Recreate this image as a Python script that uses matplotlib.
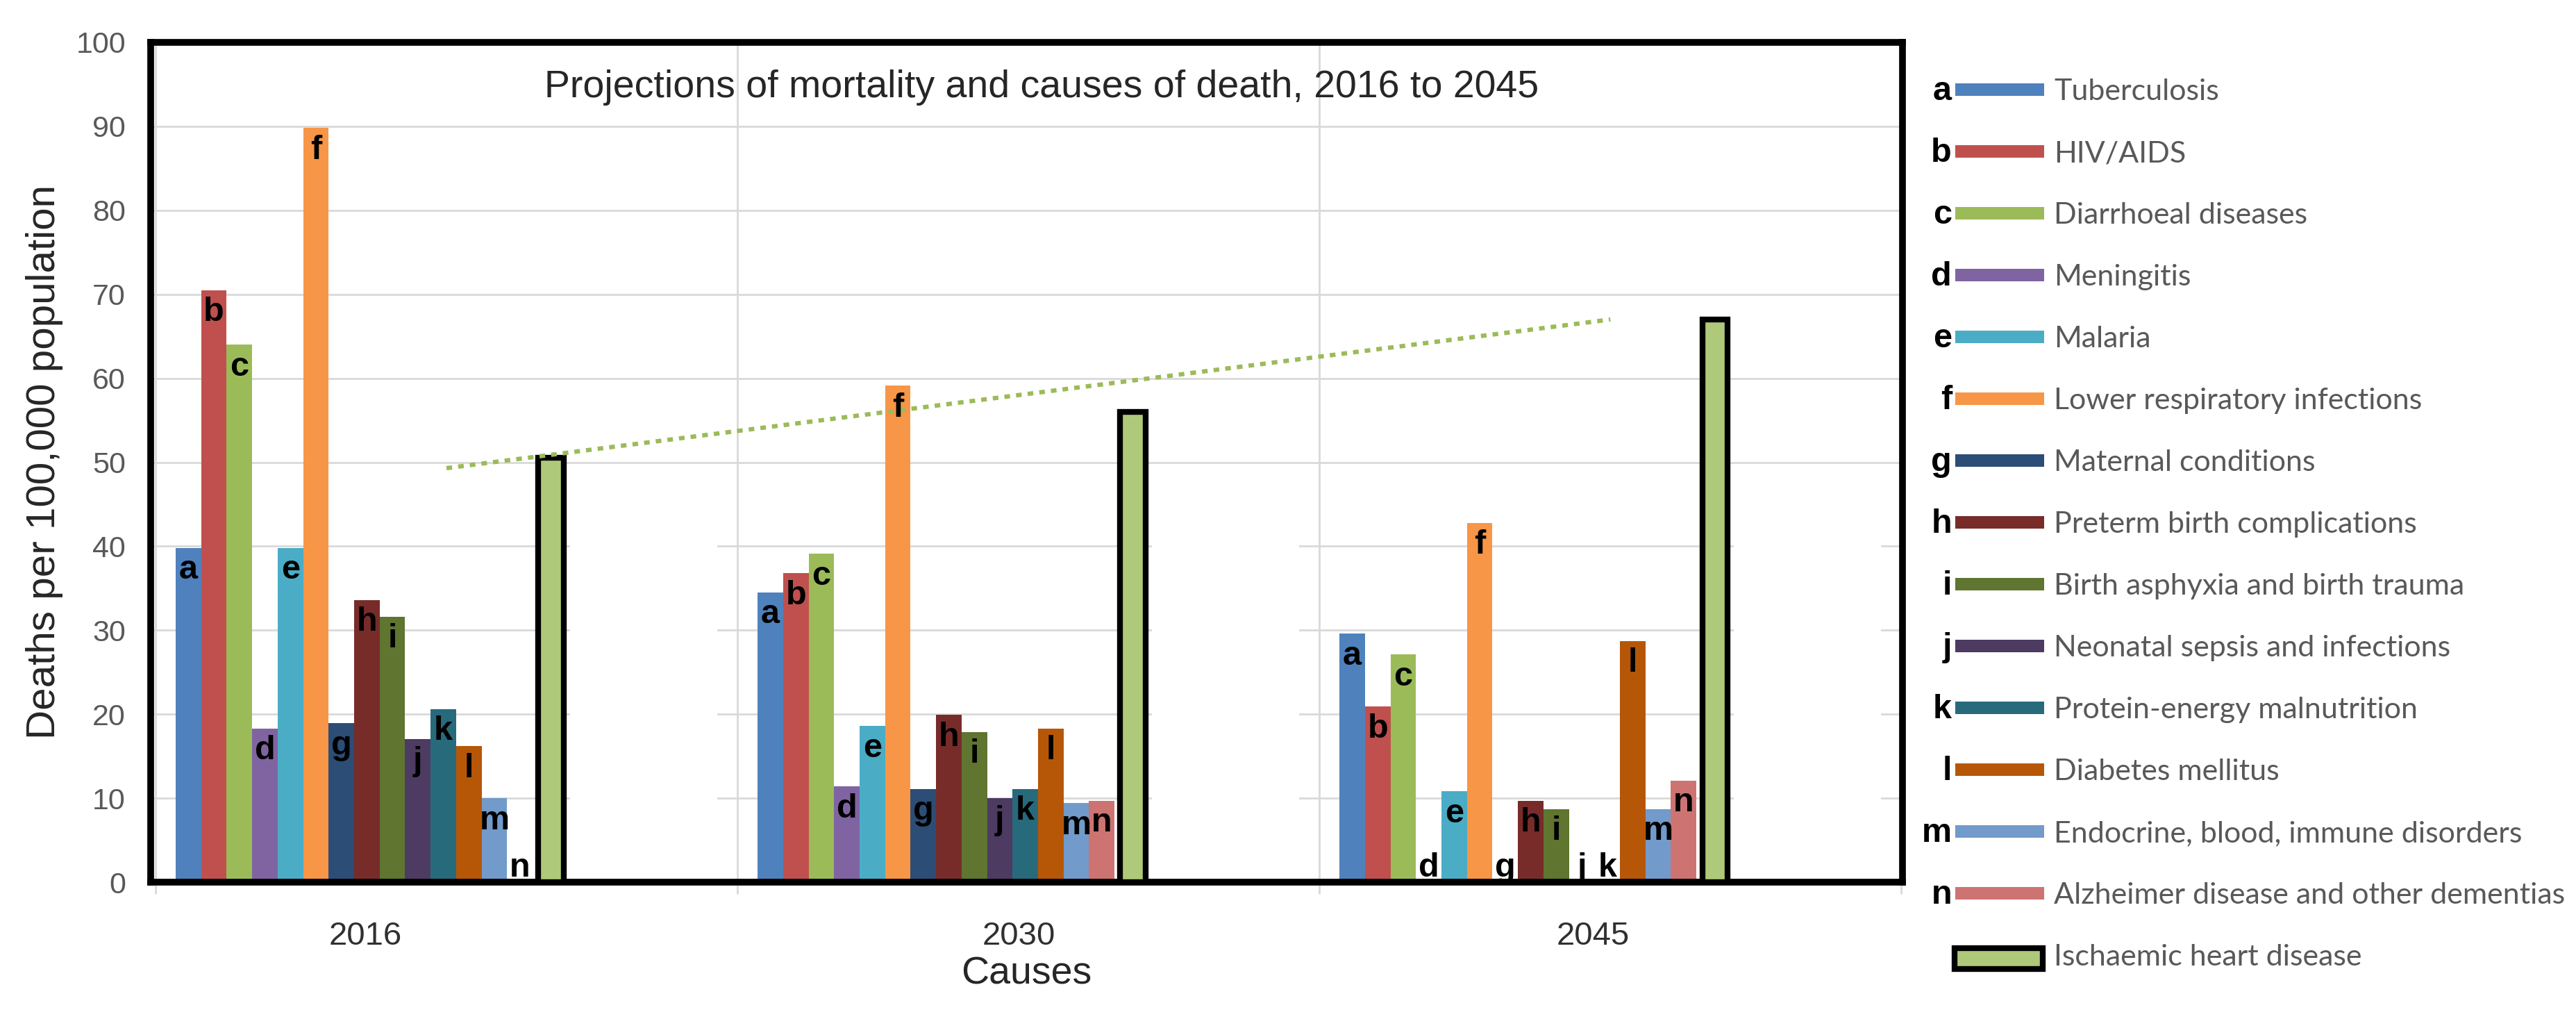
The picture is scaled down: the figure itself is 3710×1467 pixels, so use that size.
import numpy as np
import matplotlib
matplotlib.use('Agg')
import matplotlib.pyplot as plt
from matplotlib.patches import Rectangle

plt.rcParams['font.family'] = ['Liberation Sans', 'DejaVu Sans']

years = ['2016', '2030', '2045']
letters = ['a', 'b', 'c', 'd', 'e', 'f', 'g', 'h', 'i', 'j', 'k', 'l', 'm', 'n']
causes = ['Tuberculosis', 'HIV/AIDS', 'Diarrhoeal diseases', 'Meningitis', 'Malaria',
          'Lower respiratory infections', 'Maternal conditions',
          'Preterm birth complications', 'Birth asphyxia and birth trauma',
          'Neonatal sepsis and infections', 'Protein-energy malnutrition',
          'Diabetes mellitus', 'Endocrine, blood, immune disorders',
          'Alzheimer disease and other dementias']
colors = ['#4F81BD', '#C0504D', '#9BBB59', '#8064A2', '#4BACC6', '#F79646',
          '#2C4D75', '#772C2A', '#5F7530', '#4D3B62', '#276A7C', '#B65708',
          '#729ACA', '#CD7371']

# deaths per 100,000 population, same order as causes
deaths_2016 = [39.8, 70.5, 64.0, 18.3, 39.8, 89.8, 18.9, 33.6, 31.6, 17.0, 20.6, 16.2, 10.0, 0]
deaths_2030 = [34.5, 36.8, 39.1, 11.4, 18.6, 59.1, 11.1, 19.9, 17.9, 10.0, 11.1, 18.3, 9.4, 9.7]
deaths_2045 = [29.6, 20.9, 27.1, 0, 10.8, 42.8, 0, 9.7, 8.7, 0, 0, 28.7, 8.7, 12.1]

ihd_name = 'Ischaemic heart disease'
ihd_color = '#AFC97A'
ihd = [50.5, 56.0, 67.0]

# dotted trend line, read at 2016 and 2045
trend_vals = [49.3, 67.0]

# layout (category units, one category per year)
bar_w = 0.0438
first = 0.0346
year_label_off = [0.36, 0.483, 0.47]

fig = plt.figure(figsize=(37.1, 14.67), dpi=100)
ax = fig.add_axes([217 / 3710, 197 / 1467, 2523 / 3710, 1209 / 1467])

groups = np.arange(len(years))
table = np.array([deaths_2016, deaths_2030, deaths_2045])

for k in range(len(causes)):
    xs = groups + first + (k + 0.5) * bar_w
    vals = table[:, k]
    ax.bar(xs, vals, width=bar_w, color=colors[k], zorder=2)
    for x, v in zip(xs, vals):
        if v > 0:
            ax.annotate(letters[k], (x, v), xytext=(0, -32), textcoords='offset points',
                        ha='center', va='baseline', fontsize=35, fontweight='bold',
                        color='black', zorder=6)
        else:
            ax.annotate(letters[k], (x, 0), xytext=(0, 6), textcoords='offset points',
                        ha='center', va='baseline', fontsize=35, fontweight='bold',
                        color='black', zorder=6)

xi = groups + first + 14.5 * bar_w + 0.01
ax.bar(xi, ihd, width=bar_w, color=ihd_color, edgecolor='black', linewidth=6, zorder=3)

ax.plot(np.array([0, 2]) + 0.5, trend_vals, color='#9BBB59', lw=4.5,
        linestyle=(0, (1.3, 1.4)), zorder=4)

# blank patches where the original has no gridlines
for g in groups:
    ax.add_patch(Rectangle((g + 0.712, 0), 0.253, 45, facecolor='white',
                           edgecolor='none', zorder=1))

ax.set_xlim(-0.0084, 3.002)
ax.set_ylim(0, 100)
ax.set_yticks(range(0, 101, 10))
ax.set_axisbelow(True)
ax.yaxis.grid(True, color='#D9D9D9', lw=2)
ax.set_xticks([0, 1, 2, 3])
ax.set_xticklabels([])
ax.xaxis.grid(True, which='major', color='#D9D9D9', lw=2)
ax.set_xticks(groups + np.array(year_label_off), minor=True)
ax.set_xticklabels(years, minor=True)
ax.tick_params(axis='y', length=0, pad=26, labelsize=31, labelcolor='#595959')
ax.tick_params(axis='x', which='major', length=12, width=2, color='#D9D9D9')
ax.tick_params(axis='x', which='minor', length=0, pad=40, labelsize=34,
               labelcolor='#303030')

for s in ax.spines.values():
    s.set_linewidth(7)
    s.set_color('black')

ax.set_ylabel('Deaths per 100,000 population', fontsize=42, color='#262626')
ax.yaxis.set_label_coords(-0.050, 0.5)
ax.set_xlabel('Causes', fontsize=40, color='#262626')
ax.xaxis.set_label_coords(0.5, -0.088)

ax.text(0.5085, 0.9347, 'Projections of mortality and causes of death, 2016 to 2045',
        transform=ax.transAxes, ha='center', va='baseline', fontsize=40, color='#262626')

# legend, drawn in pixel units on its own axes
lax = fig.add_axes([2760 / 3710, 0, 950 / 3710, 1])
lax.set_xlim(2760, 3710)
lax.set_ylim(1467, 0)
lax.axis('off')
row0, step = 129, 89
for i in range(len(causes)):
    y = row0 + step * i
    lax.text(2811, y + 15, letters[i], ha='right', va='baseline', fontsize=35,
             fontweight='bold', color='black')
    lax.add_patch(Rectangle((2816, y - 9), 128, 18, facecolor=colors[i], edgecolor='none'))
    lax.text(2958, y + 15, causes[i], ha='left', va='baseline', fontsize=31,
             color='#595959', family=['Lato', 'DejaVu Sans'])
y = row0 + step * len(causes)
lax.add_patch(Rectangle((2815, y - 10), 127, 30, facecolor=ihd_color,
                        edgecolor='black', linewidth=6))
lax.text(2958, y + 15, ihd_name, ha='left', va='baseline', fontsize=31,
         color='#595959', family=['Lato', 'DejaVu Sans'])

fig.savefig('out.png', dpi=100, facecolor='white')
